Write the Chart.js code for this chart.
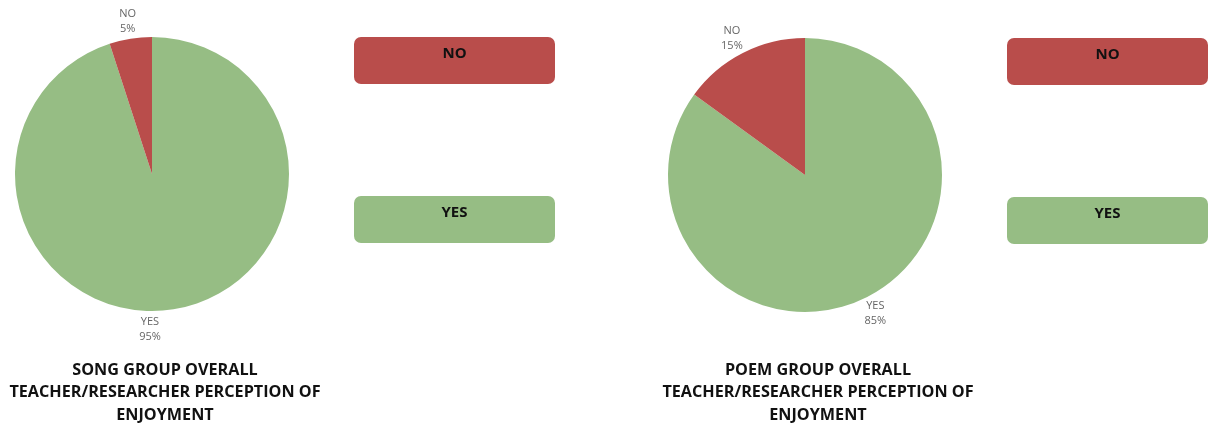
<!DOCTYPE html>
<html>
<head>
<meta charset="utf-8">
<script src="https://cdn.jsdelivr.net/npm/chart.js@4/dist/chart.umd.min.js"></script>
<style>
  html, body { margin: 0; padding: 0; background: #fff; }
  .row { display: flex; width: 1212px; height: 427px; }
  .cell { position: relative; width: 606px; height: 427px; }
</style>
</head>
<body>
<div class="row">
  <div class="cell"><canvas id="songChart"></canvas></div>
  <div class="cell"><canvas id="poemChart"></canvas></div>
</div>
<script>
// answers, in the order the slices are drawn (clockwise from 12 o'clock)
const categories = ['YES', 'NO'];
const songValues = [95, 5];
const poemValues = [85, 15];
const sliceColors = ['#96bd84', '#b94d4b'];

const songTitle = ['SONG GROUP OVERALL', 'TEACHER/RESEARCHER PERCEPTION OF', 'ENJOYMENT'];
const poemTitle = ['POEM GROUP OVERALL', 'TEACHER/RESEARCHER PERCEPTION OF', 'ENJOYMENT'];

// legend boxes on the right, NO on top, YES below
const legendOrder = ['NO', 'YES'];

Chart.defaults.font.family = "'Open Sans', sans-serif";

const sideLabels = {
  id: 'sideLabels',
  afterDraw(chart, args, opts) {
    const ctx = chart.ctx;
    const meta = chart.getDatasetMeta(0);
    const ds = chart.data.datasets[0];
    const total = ds.data.reduce((a, b) => a + b, 0);

    // outside slice labels: name + percent
    ctx.save();
    ctx.fillStyle = '#666';
    ctx.font = "11px 'Open Sans'";
    ctx.textAlign = 'center';
    ctx.textBaseline = 'middle';
    meta.data.forEach((arc, i) => {
      const p = arc.getProps(['x', 'y', 'startAngle', 'endAngle', 'outerRadius'], true);
      const mid = (p.startAngle + p.endAngle) / 2 + (opts.shift[i] || 0);
      const r = p.outerRadius + 18;
      const x = p.x + Math.cos(mid) * r;
      const y = p.y + Math.sin(mid) * r;
      const pct = Math.round(ds.data[i] / total * 100) + '%';
      ctx.fillText(chart.data.labels[i], x, y - 7);
      ctx.fillText(pct, x, y + 8);
    });
    ctx.restore();

    // legend boxes
    const cx = meta.data[0].x;
    const bx = cx + 202, bw = 201, bh = 47;
    legendOrder.forEach((name, k) => {
      const idx = chart.data.labels.indexOf(name);
      const by = chart.chartArea.top + k * 159;
      ctx.save();
      ctx.fillStyle = ds.backgroundColor[idx];
      ctx.beginPath();
      ctx.roundRect(bx, by, bw, bh, 7);
      ctx.fill();
      ctx.fillStyle = '#111';
      ctx.font = "bold 15px 'Open Sans'";
      ctx.textAlign = 'center';
      ctx.textBaseline = 'middle';
      ctx.fillText(name, bx + bw / 2, by + 17);
      ctx.restore();
    });

    // title under the pie
    ctx.save();
    ctx.fillStyle = '#111';
    ctx.font = "bold 16.2px 'Open Sans'";
    ctx.textAlign = 'center';
    ctx.textBaseline = 'middle';
    opts.title.forEach((line, k) => {
      ctx.fillText(line, cx + 13, 370 + k * 22.5);
    });
    ctx.restore();
  }
};

function makeChart(id, values, title, left, top, shift) {
  const canvas = document.getElementById(id);
  return new Chart(canvas, {
    type: 'pie',
    data: {
      labels: categories,
      datasets: [{
        data: values,
        backgroundColor: sliceColors,
        borderWidth: 0
      }]
    },
    options: {
      responsive: false,
      animation: false,
      layout: { padding: { left: left, top: top, right: 606 - left - 274, bottom: 427 - top - 274 } },
      plugins: {
        legend: { display: false },
        tooltip: { enabled: false },
        sideLabels: { title: title, shift: shift }
      }
    },
    plugins: [sideLabels]
  });
}

function sizeCanvas(id) {
  const c = document.getElementById(id);
  c.width = 606; c.height = 427;
  c.style.width = '606px'; c.style.height = '427px';
}
sizeCanvas('songChart');
sizeCanvas('poemChart');

// shift: per-slice nudge (radians) of the outside label, [YES, NO]
makeChart('songChart', songValues, songTitle, 15, 37, [0.17, 0]);
makeChart('poemChart', poemValues, poemTitle, 62, 38, [0, -0.02]);
</script>
</body>
</html>
